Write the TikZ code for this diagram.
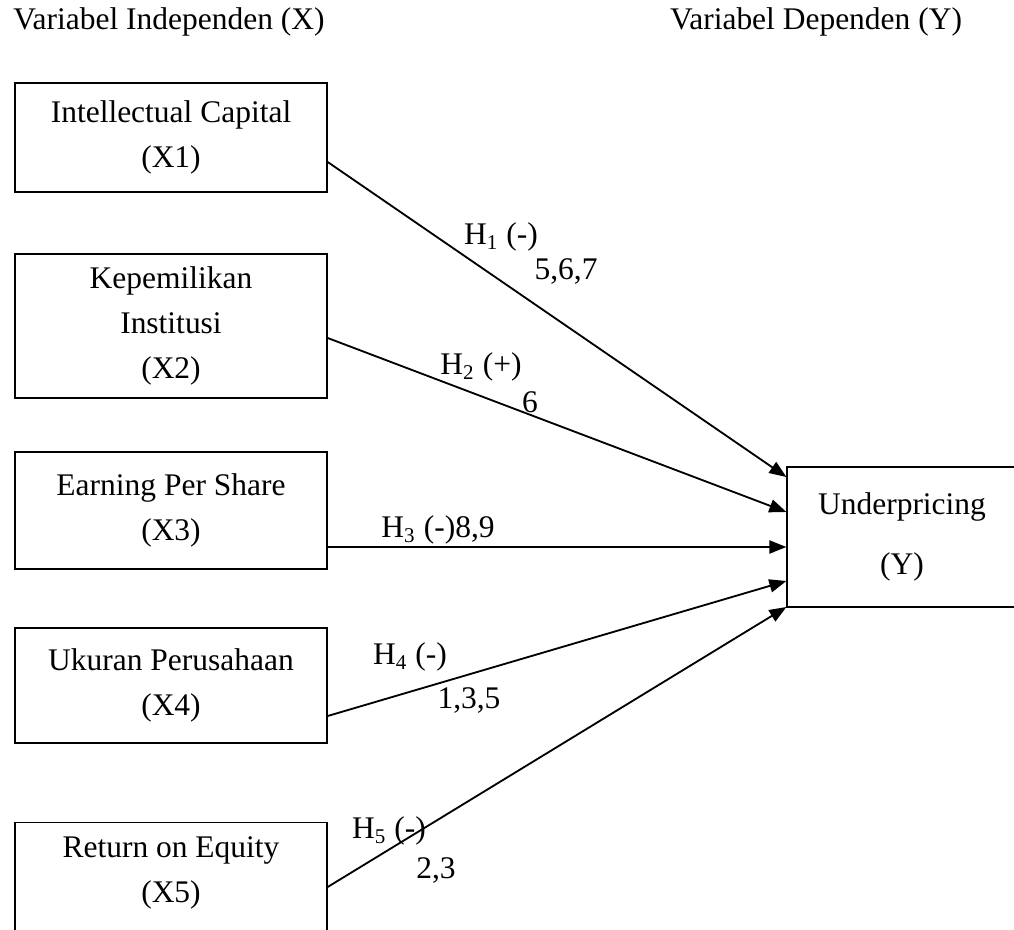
\documentclass[tikz,border=0pt]{standalone}
\usepackage{fontspec}
\setmainfont{Liberation Serif}
\usetikzlibrary{arrows.meta,calc}
\begin{document}
\begin{tikzpicture}[x=0.0134cm,y=-0.0134cm,
    font=\fontsize{12}{17.1}\selectfont,
    varbox/.style={draw, line width=0.5pt, minimum width=4.18cm, align=center, inner sep=0pt},
    hyp/.style={-{Triangle[length=6.5pt,width=5pt]}, line width=0.7pt},
    lbl/.style={inner sep=0pt}]
    \useasboundingbox (0,0) rectangle (1014,930);
    \node (hx) at (169,22) {Variabel Independen (X)};
    \node (hy) at (816,22) {Variabel Dependen (Y)};
    \node[varbox, minimum height=1.46cm] (x1) at (171,137.5) {Intellectual Capital\\(X1)};
    \node[varbox, minimum height=1.93cm] (x2) at (171,326) {Kepemilikan\\Institusi\\(X2)};
    \node[varbox, minimum height=1.57cm] (x3) at (171,510.5) {Earning Per Share\\(X3)};
    \node[varbox, minimum height=1.54cm] (x4) at (171,685.5) {Ukuran Perusahaan\\(X4)};
    \node[varbox, minimum height=1.8cm, anchor=north] (x5) at (171,822) {};
    \node[align=center] (x5txt) at (171,873) {Return on Equity\\(X5)};
    \node[varbox, minimum width=3.08cm, minimum height=1.876cm] (yv) at (902,537) {Underpricing\\[6pt](Y)};
    \draw[hyp] ($(x1.east)+(0,24.5)$) -- ($(yv.west)+(0,-60)$);
    \draw[hyp] ($(x2.east)+(0,12)$) -- ($(yv.west)+(0,-25)$);
    \draw[hyp] ($(x3.east)+(0,36.5)$) -- ($(yv.west)+(0,10)$);
    \draw[hyp] ($(x4.east)+(0,30.5)$) -- ($(yv.west)+(0,44)$);
    \draw[hyp] ($(x5.north east)+(0,65)$) -- ($(yv.west)+(0,70)$);
    \node[lbl] (h1) at (501,237) {H\textsubscript{1} (-)};
    \node[lbl] (n1) at (566,272) {5,6,7};
    \node[lbl] (h2) at (481,367) {H\textsubscript{2} (+)};
    \node[lbl] (n2) at (530,402) {6};
    \node[lbl] (h3) at (438,530) {H\textsubscript{3} (-)8,9};
    \node[lbl] (h4) at (410,657) {H\textsubscript{4} (-)};
    \node[lbl] (n4) at (469,700) {1,3,5};
    \node[lbl] (h5) at (389,831) {H\textsubscript{5} (-)};
    \node[lbl] (n5) at (436,870) {2,3};
\end{tikzpicture}
\end{document}
